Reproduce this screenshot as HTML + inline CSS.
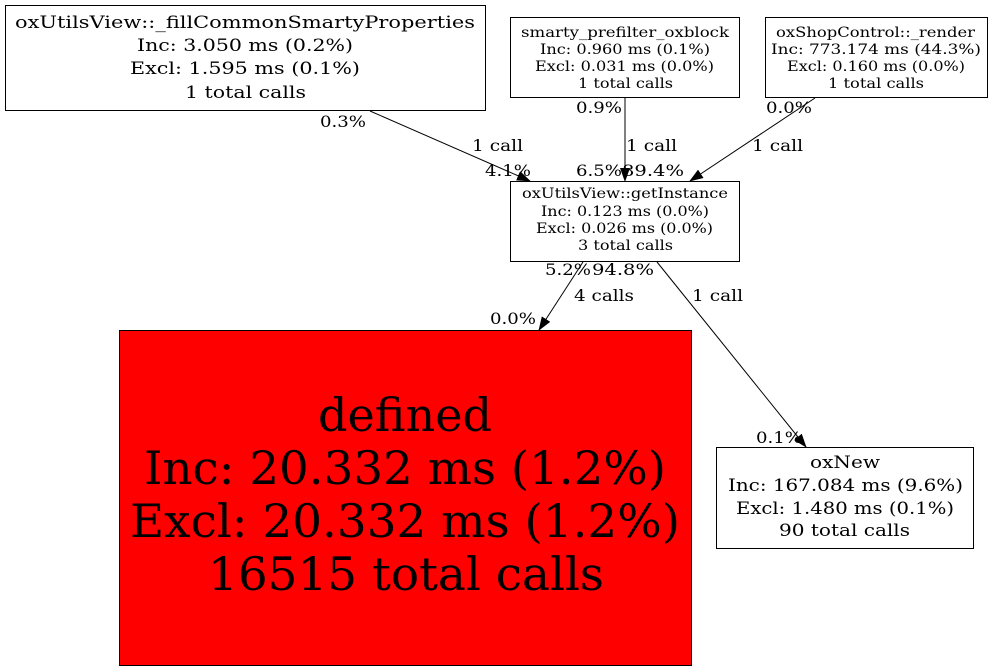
<!DOCTYPE html>
<html><head><meta charset="utf-8"><style>
html,body{margin:0;padding:0;background:#fff;}
svg{display:block}
text{font-family:"DejaVu Serif","Liberation Serif",serif;}
</style></head><body>
<svg width="992" height="672" viewBox="0 0 992 672" xmlns="http://www.w3.org/2000/svg">
<defs><marker id="a" markerWidth="14" markerHeight="10" refX="13" refY="5" orient="auto" markerUnits="userSpaceOnUse"><path d="M0,0 L14,5 L0,10 Z" fill="#000"/></marker></defs>
<g fill="none" stroke="#000" stroke-width="1">
<rect x="5.5" y="5.5" width="480" height="105" fill="#fff"/>
<rect x="510.5" y="17.5" width="229" height="80" fill="#fff"/>
<rect x="765.5" y="17.5" width="222" height="80" fill="#fff"/>
<rect x="510.5" y="181.5" width="229" height="80" fill="#fff"/>
<rect x="119.5" y="330.5" width="572" height="335" fill="#ff0000"/>
<rect x="716.5" y="447.5" width="257" height="101" fill="#fff"/>
<line x1="370" y1="111" x2="530" y2="181" marker-end="url(#a)"/>
<line x1="625" y1="98" x2="625" y2="181" marker-end="url(#a)"/>
<line x1="815" y1="98" x2="690" y2="181" marker-end="url(#a)"/>
<line x1="583" y1="262" x2="539" y2="330" marker-end="url(#a)"/>
<line x1="657" y1="262" x2="806" y2="447" marker-end="url(#a)"/>
</g>
<g font-size="17" lengthAdjust="spacingAndGlyphs">
<text x="15" y="28" textLength="460" lengthAdjust="spacingAndGlyphs">oxUtilsView::_fillCommonSmartyProperties</text>
<text x="137" y="51" textLength="216" lengthAdjust="spacingAndGlyphs">Inc: 3.050 ms (0.2%)</text>
<text x="130" y="74" textLength="230" lengthAdjust="spacingAndGlyphs">Excl: 1.595 ms (0.1%)</text>
<text x="185" y="98" textLength="121" lengthAdjust="spacingAndGlyphs">1 total calls</text>
<text x="810" y="468" textLength="70" lengthAdjust="spacingAndGlyphs">oxNew</text>
<text x="728" y="491" textLength="235" lengthAdjust="spacingAndGlyphs">Inc: 167.084 ms (9.6%)</text>
<text x="736" y="514" textLength="218" lengthAdjust="spacingAndGlyphs">Excl: 1.480 ms (0.1%)</text>
<text x="779" y="536" textLength="131" lengthAdjust="spacingAndGlyphs">90 total calls</text>
</g>
<g font-size="14">
<text x="521" y="37" textLength="208" lengthAdjust="spacingAndGlyphs">smarty_prefilter_oxblock</text>
<text x="540" y="54" textLength="170" lengthAdjust="spacingAndGlyphs">Inc: 0.960 ms (0.1%)</text>
<text x="535" y="71" textLength="179" lengthAdjust="spacingAndGlyphs">Excl: 0.031 ms (0.0%)</text>
<text x="578" y="88" textLength="95" lengthAdjust="spacingAndGlyphs">1 total calls</text>
<text x="776" y="37" textLength="199" lengthAdjust="spacingAndGlyphs">oxShopControl::_render</text>
<text x="771" y="54" textLength="210" lengthAdjust="spacingAndGlyphs">Inc: 773.174 ms (44.3%)</text>
<text x="787" y="71" textLength="178" lengthAdjust="spacingAndGlyphs">Excl: 0.160 ms (0.0%)</text>
<text x="828" y="88" textLength="96" lengthAdjust="spacingAndGlyphs">1 total calls</text>
<text x="522" y="198" textLength="206" lengthAdjust="spacingAndGlyphs">oxUtilsView::getInstance</text>
<text x="541" y="216" textLength="168" lengthAdjust="spacingAndGlyphs">Inc: 0.123 ms (0.0%)</text>
<text x="536" y="233" textLength="177" lengthAdjust="spacingAndGlyphs">Excl: 0.026 ms (0.0%)</text>
<text x="578" y="250" textLength="95" lengthAdjust="spacingAndGlyphs">3 total calls</text>
</g>
<g font-size="46">
<text x="318" y="431" textLength="174" lengthAdjust="spacingAndGlyphs">defined</text>
<text x="144" y="484" textLength="522" lengthAdjust="spacingAndGlyphs">Inc: 20.332 ms (1.2%)</text>
<text x="130" y="537" textLength="550" lengthAdjust="spacingAndGlyphs">Excl: 20.332 ms (1.2%)</text>
<text x="208" y="590" textLength="396" lengthAdjust="spacingAndGlyphs">16515 total calls</text>
</g>
<g font-size="16">
<text x="320" y="127" textLength="46" lengthAdjust="spacingAndGlyphs">0.3%</text>
<text x="472" y="151" textLength="51" lengthAdjust="spacingAndGlyphs">1 call</text>
<text x="485" y="176" textLength="46" lengthAdjust="spacingAndGlyphs">4.1%</text>
<text x="576" y="113" textLength="46" lengthAdjust="spacingAndGlyphs">0.9%</text>
<text x="626" y="151" textLength="51" lengthAdjust="spacingAndGlyphs">1 call</text>
<text x="576" y="176" textLength="46" lengthAdjust="spacingAndGlyphs">6.5%</text>
<text x="622" y="176" textLength="62" lengthAdjust="spacingAndGlyphs">89.4%</text>
<text x="766" y="113" textLength="46" lengthAdjust="spacingAndGlyphs">0.0%</text>
<text x="752" y="151" textLength="51" lengthAdjust="spacingAndGlyphs">1 call</text>
<text x="545" y="275" textLength="46" lengthAdjust="spacingAndGlyphs">5.2%</text>
<text x="592" y="275" textLength="62" lengthAdjust="spacingAndGlyphs">94.8%</text>
<text x="574" y="301" textLength="60" lengthAdjust="spacingAndGlyphs">4 calls</text>
<text x="490" y="324" textLength="46" lengthAdjust="spacingAndGlyphs">0.0%</text>
<text x="692" y="301" textLength="51" lengthAdjust="spacingAndGlyphs">1 call</text>
<text x="756" y="443" textLength="46" lengthAdjust="spacingAndGlyphs">0.1%</text>
</g>
</svg>
</body></html>
